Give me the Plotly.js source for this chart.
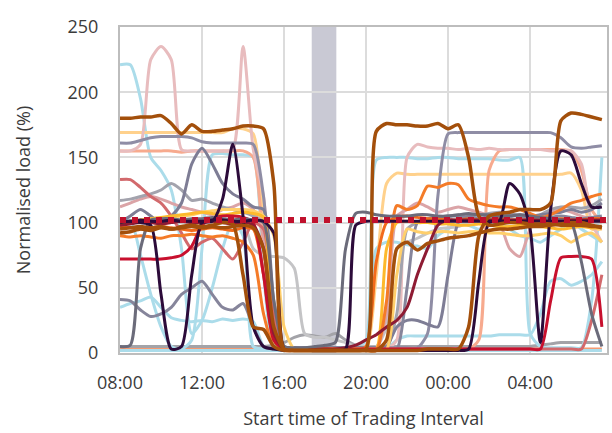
<!DOCTYPE html>
<html>
<head>
<meta charset="utf-8">
<script src="https://cdn.plot.ly/plotly-3.0.1.min.js"></script>
<style>html,body{margin:0;padding:0;background:#fff;}#chart{width:612px;height:433px;}</style>
</head>
<body>
<div id="chart"></div>
<script>
// Start time of each 30-minute trading interval
const times = ['08:00','08:30','09:00','09:30','10:00','10:30','11:00','11:30','12:00','12:30','13:00','13:30',
  '14:00','14:30','15:00','15:30','16:00','16:30','17:00','17:30','18:00','18:30','19:00','19:30',
  '20:00','20:30','21:00','21:30','22:00','22:30','23:00','23:30','00:00','00:30','01:00','01:30',
  '02:00','02:30','03:00','03:30','04:00','04:30','05:00','05:30','06:00','06:30','07:00','07:30'];
const tickLabels = ['08:00','12:00','16:00','20:00','00:00','04:00'];
const yTicks = [0, 50, 100, 150, 200, 250];
const referenceLevel = 102;            // red dotted line
const eventWindow = [18.7, 21.1];      // shaded interval (category index units)

// Normalised load (%) per unit, one value per interval
const saltBottom = [3,4,4,3,3,3,3,3, 3,3,4,3,3,3,3,3, 3,3,3,3,3,3,3,3, 3,3,3,3,3,3,3,3, 3,3,3,3,3,3,3,3, 3,3,3,3,3,3,3,3];
const grayBottom = [5,5,5,5,5,5,5,5, 5,5,5,5,5,5,5,6, 8,12,14,13,12,15,10,6, 5,5,5,5,5,5,5,5, 5,5,5,5,5,5,5,5, 5,6,7,8,8,8,8,8];
const lightBlueA = [221,221,195,150,140,125,80,15, 25,50,80,100,90,5,3,2, 2,2,2,2,2,2,2,2, 2,2,2,2,2,2,2,2, 2,2,2,2,2,2,2,2, 2,2,2,2,2,2,2,2];
const lightBlueB = [100,102,75,45,20,5,3,10, 80,152,153,152,152,150,60,5, 3,3,3,3,3,3,3,3, 10,148,150,150,150,149,149,150, 150,149,149,149,149,148,148,150, 15,5,4,4,4,4,40,150];
const lightBlueC = [35,38,40,43,35,27,25,24, 25,24,26,25,26,24,5,2, 2,2,2,2,2,2,2,2, 2,2,3,10,13,13,13,13, 13,13,13,13,13,14,14,14, 14,30,55,57,52,55,60,70];
const lightBlueD = [2,2,2,2,2,2,2,2, 2,2,2,2,2,2,2,2, 2,2,2,2,2,2,2,2, 3,80,85,85,83,82,80,90, 95,100,98,95,100,100,95,90, 88,85,90,95,100,95,90,85];
const lightPink  = [155,155,160,225,235,225,156,155, 155,155,155,156,235,156,120,30, 4,3,3,3,3,3,3,3, 3,3,3,10,150,160,158,157, 157,156,157,156,157,156,156,156, 156,156,155,155,155,145,100,85];
const peach      = [169,169,169,169,169,169,169,169, 169,169,169,172,172,168,100,20, 3,3,3,3,3,3,3,3, 3,60,130,138,137,137,137,137, 137,137,137,137,137,137,137,137, 137,137,137,137,138,125,95,95];
const salmon     = [155,155,155,155,155,155,154,155, 155,155,155,155,155,150,80,15, 3,3,3,3,3,3,3,3, 3,3,3,3,3,3,3,3, 3,3,3,10,140,155,156,156, 156,156,156,156,155,140,110,100];
const lightGray  = [100,100,100,100,100,100,100,100, 100,100,100,100,100,80,75,74, 73,65,15,12,12,10,8,5, 5,5,20,80,85,88,92,95, 96,97,100,102,103,103,103,103, 102,102,102,101,101,100,100,100];
const grayMid    = [117,118,120,122,125,130,125,117, 118,115,112,110,108,105,100,30, 5,4,4,4,4,4,4,4, 4,4,4,30,95,100,102,104, 105,106,105,106,107,108,107,105, 104,106,110,112,112,111,113,118];
const slate      = [161,161,163,165,166,166,166,165, 162,161,161,161,161,160,120,30, 5,4,4,4,4,4,4,4, 4,4,4,4,4,4,15,120, 168,169,169,169,169,169,169,169, 169,169,169,165,158,157,158,159];
const slateDark  = [100,105,110,105,100,105,115,145, 157,145,130,122,118,112,110,40, 5,4,4,4,4,4,4,4, 4,4,5,20,25,25,22,20, 60,100,105,106,105,104,105,106, 105,106,107,108,110,108,110,115];
const slateLow   = [41,40,33,28,30,35,45,50, 55,45,35,33,38,20,5,3, 3,3,3,3,3,3,3,3, 3,3,3,3,50,100,103,104, 105,105,104,103,104,105,106,105, 104,103,104,105,104,103,104,105];
const dustyPink  = [112,115,118,120,118,115,112,110, 108,106,110,112,115,110,90,20, 3,3,3,3,3,3,3,3, 3,3,30,105,110,115,112,108, 110,112,110,108,105,100,80,74, 95,105,108,110,108,105,103,102];
const dustyRed   = [133,133,127,120,115,105,92,80, 85,88,80,72,85,100,95,30, 4,3,3,3,3,3,3,3, 3,3,3,3,3,3,3,3, 3,3,3,3,3,3,3,3, 3,3,3,3,3,3,25,60];
const lightGold  = [100,100,101,102,103,104,105,106, 108,109,110,110,110,109,105,90, 20,3,3,3,3,3,3,3, 3,3,3,60,95,93,92,93, 93,92,93,93,92,92,91,90, 90,91,92,90,85,90,92,85];
const gold       = [100,101,102,103,104,105,106,107, 108,107,106,107,108,107,104,10, 3,3,3,3,3,3,3,3, 3,3,80,100,101,100,100,99, 99,98,98,99,98,97,97,98, 98,97,96,95,96,97,96,96];
const orangeA    = [90,89,90,89,88,90,90,91, 90,89,90,88,85,75,30,5, 2,2,2,2,2,2,2,2, 2,2,40,113,110,113,128,127, 130,129,118,115,113,112,112,110, 107,104,106,110,115,117,120,122];
const orangeB    = [97,96,95,96,97,96,95,94, 95,96,95,94,96,95,60,10, 2,2,2,2,2,2,2,2, 5,70,100,104,105,104,103,103, 102,102,103,102,102,103,102,102, 102,102,102,103,102,102,103,103];
const crimson    = [72,72,72,72,72,73,75,82, 98,103,105,105,104,100,60,10, 3,3,3,3,3,3,3,3, 3,3,3,3,3,3,3,3, 3,3,3,3,3,3,3,3, 3,3,40,73,74,74,72,20];
const maroon     = [98,99,100,100,99,100,101,100, 100,101,100,99,100,98,80,15, 3,3,3,3,3,3,4,6, 10,14,20,25,35,60,80,98, 102,102,102,102,102,102,102,102, 102,102,102,102,102,102,102,102];
const darkGray   = [5,6,80,102,103,103,102,103, 103,104,103,102,103,102,100,40, 5,4,4,5,6,8,80,107, 108,106,105,105,105,106,106,105, 105,106,107,106,106,105,105,106, 105,104,103,102,100,70,30,5];
const purpleA    = [101,101,102,101,101,102,101,101, 101,102,102,101,101,102,101,92, 3,2,2,2,2,2,3,98, 101,101,101,101,101,101,101,101, 101,101,101,101,101,101,101,101, 101,101,101,101,101,101,101,101];
const purpleB    = [100,101,100,98,45,3,5,60, 100,101,118,160,105,20,5,3, 2,2,2,2,2,2,2,2, 2,2,2,2,2,2,2,2, 2,2,3,55,100,101,130,122, 95,8,110,155,152,130,112,112];
const brownA     = [180,180,181,181,182,176,168,175, 170,170,171,172,174,174,172,130, 3,2,2,2,2,2,2,2, 3,170,176,175,175,174,174,176, 172,175,150,105,98,99,100,100, 99,99,99,98,98,98,97,97];
const brownB     = [95,96,97,96,97,95,97,98, 97,98,100,99,60,20,18,5, 2,2,2,2,2,2,2,2, 2,2,10,80,85,79,84,86, 88,89,90,92,94,95,95,96, 97,97,98,99,100,100,98,96];
const brownC     = [92,93,95,94,96,95,96,97, 96,97,96,97,98,96,80,20, 3,2,2,2,2,2,2,2, 2,2,2,2,2,2,3,3, 3,3,20,90,105,107,108,110, 110,110,115,178,184,183,181,179];

const series = [
  [saltBottom,'#F59A72',3], [grayBottom,'#A3A3A8',3],
  [lightBlueD,'#ABDCEA',3], [lightBlueC,'#ABDCEA',3], [lightBlueB,'#ABDCEA',3], [lightBlueA,'#ABDCEA',3],
  [lightGray,'#C4C4C6',3], [peach,'#FFD18C',3], [salmon,'#F7AA8E',3], [lightPink,'#E8BCBE',3],
  [dustyPink,'#DBA4A7',3], [grayMid,'#A3A3AD',3], [slate,'#8F8DA5',3], [slateDark,'#7E7D95',3], [slateLow,'#86859B',3],
  [dustyRed,'#D2696C',3], [lightGold,'#FFCF6B',3], [gold,'#FDB92C',3], [orangeA,'#F47B28',3], [orangeB,'#F26A1B',3],
  [crimson,'#C8102E',3], [maroon,'#8E1B33',3], [darkGray,'#6B6B7A',3],
  [purpleA,'#2C0B3A',3], [purpleB,'#2C0B3A',3],
  [brownB,'#A34F0B',3.5], [brownC,'#A34F0B',3.5], [brownA,'#A34F0B',3.5]
];

const traces = series.map(([vals, color, w]) => ({
  x: times, y: vals, type: 'scatter', mode: 'lines',
  line: {color: color, width: w, shape: 'spline', smoothing: 0.7}, hoverinfo: 'skip', showlegend: false
}));

const font = {family: 'Open Sans, sans-serif', size: 18, color: '#3b3b3b'};
const layout = {
  width: 612, height: 433,
  margin: {l: 120, r: 5, t: 27, b: 80},
  paper_bgcolor: '#fff', plot_bgcolor: '#fff',
  font: font, showlegend: false,
  xaxis: {
    type: 'category', range: [0, 47.5],
    tickvals: tickLabels, ticktext: tickLabels,
    showgrid: true, gridcolor: '#DCDCDC', gridwidth: 2,
    showline: true, linecolor: '#BDBDBD', linewidth: 2, mirror: true,
    ticks: '', ticklabelstandoff: 12, zeroline: false,
    tickfont: font,
    title: {text: 'Start time of Trading Interval', font: font, standoff: 20}
  },
  yaxis: {
    range: [0, 250], tickvals: yTicks,
    showgrid: true, gridcolor: '#DCDCDC', gridwidth: 2,
    showline: true, linecolor: '#BDBDBD', linewidth: 2, mirror: true,
    ticks: '', ticklabelstandoff: 16, zeroline: false,
    tickfont: font,
    title: {text: 'Normalised load (%)', font: font, standoff: 32}
  },
  shapes: [
    {type: 'rect', xref: 'x', yref: 'paper', x0: eventWindow[0], x1: eventWindow[1], y0: 0, y1: 1,
     fillcolor: '#C9C9D4', line: {width: 0}, layer: 'between'},
    {type: 'line', xref: 'paper', yref: 'y', x0: 0, x1: 1, y0: referenceLevel, y1: referenceLevel,
     line: {color: '#C0112D', width: 6, dash: '6px,6px'}, layer: 'above'}
  ]
};

Plotly.newPlot('chart', traces, layout, {staticPlot: true, displayModeBar: false});
</script>
</body>
</html>
